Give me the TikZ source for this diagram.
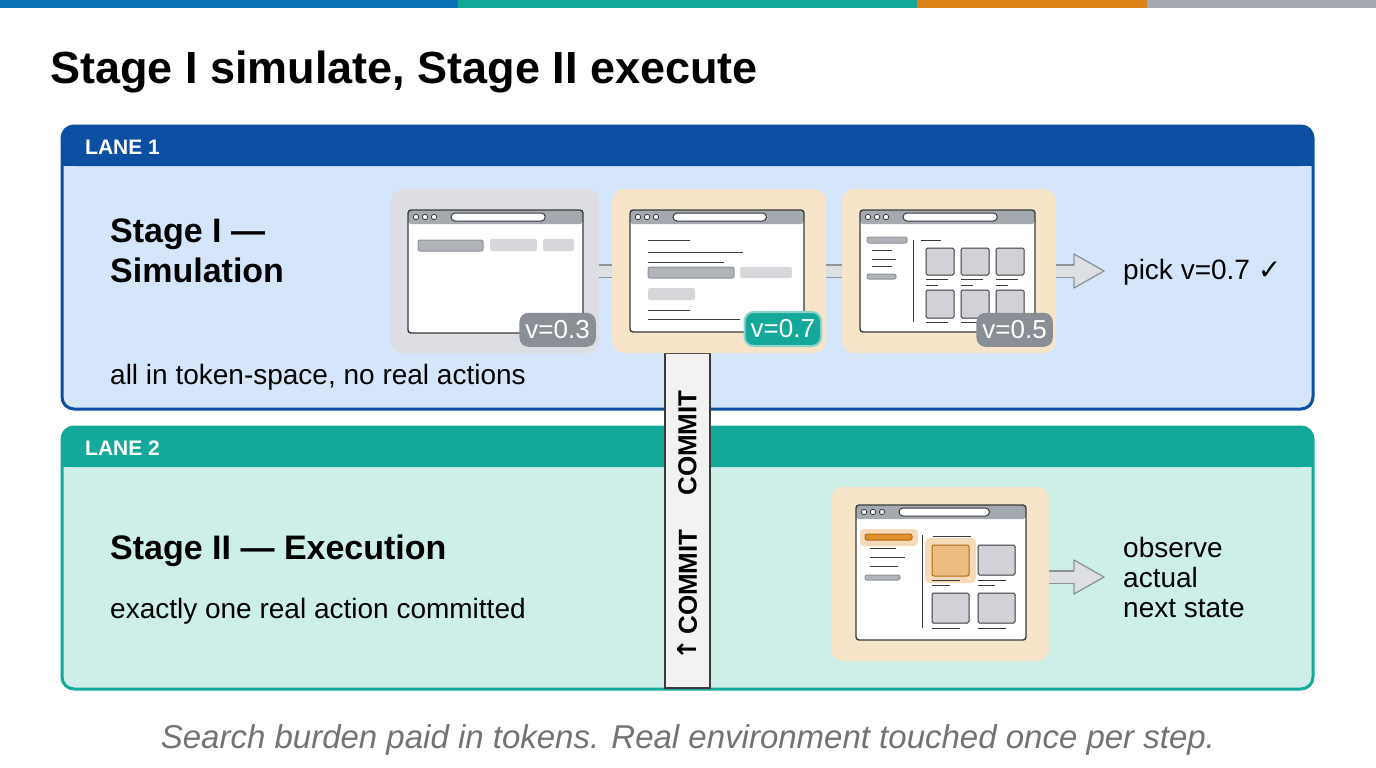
\documentclass[tikz,border=0pt]{standalone}
\usepackage{fontspec}
\setmainfont{Liberation Sans}
\newfontfamily\symf{DejaVu Sans}
\usetikzlibrary{calc,arrows.meta}
\definecolor{bluedk}{HTML}{0B4EA2}
\definecolor{bluelt}{HTML}{D6E6FA}
\definecolor{teal1}{HTML}{14A89A}
\definecolor{teallt}{HTML}{CDEFE8}
\definecolor{orng}{HTML}{DC8418}
\definecolor{grybar}{HTML}{A5A9B2}
\definecolor{cardg}{HTML}{DDDEE3}
\definecolor{cardb}{HTML}{F6E5C9}
\definecolor{badgeg}{HTML}{8A8F96}
\definecolor{inkc}{HTML}{3A3A3A}
\definecolor{boxg}{HTML}{D0D2D7}
\definecolor{boxd}{HTML}{8E949B}
\newcommand{\fs}[1]{\fontsize{#1}{#1}\selectfont}
\newcommand{\browserwin}[4]{% x1 y1 x2 y2
  \fill[white,rounded corners=3pt] (#1,#2) rectangle (#3,#4);
  \fill[boxd!80,rounded corners=3pt] (#1,#2) rectangle ({#3},{#2+14});
  \draw[inkc,line width=1.4pt,rounded corners=3pt] (#1,#2) rectangle (#3,#4);
  \foreach \k in {0,1,2}{\draw[inkc,fill=white,line width=0.8pt] ({#1+8+\k*9},{#2+7}) circle (2.7);}
  \draw[inkc,fill=white,line width=1pt,rounded corners=4pt] ({#1+43},{#2+3}) rectangle ({#1+0.75*(#3-#1)+6},{#2+11});
}
\tikzset{
  lane/.style={rounded corners=12pt,line width=3pt},
  card/.style={rounded corners=12pt,inner sep=0pt},
  badge/.style={rounded corners=9pt,text=white,font=\fs{26},inner sep=6pt,minimum height=34pt},
  band/.style={draw=boxd,line width=1.3pt,double=boxg!70,double distance=11pt},
  lbl/.style={anchor=west,font=\fs{28},inner sep=0pt},
  hd/.style={anchor=west,font=\bfseries\fs{21},text=white,inner sep=0pt},
  big/.style={anchor=west,font=\bfseries\fs{34},inner sep=0pt,align=left},
  dk/.style={boxd,fill=boxd!70,line width=1pt,rounded corners=2pt},
  lt/.style={fill=boxg!90,rounded corners=2pt},
  ln/.style={inkc,line width=1pt},
}
\begin{document}
\begin{tikzpicture}[x=1pt,y=-1pt]
\useasboundingbox (0,0) rectangle (1376,768);
\fill[white] (0,0) rectangle (1376,768);
\fill[bluedk!80!cyan] (0,0) rectangle (458,8);
\fill[teal1] (458,0) rectangle (917,8);
\fill[orng] (917,0) rectangle (1147,8);
\fill[grybar] (1147,0) rectangle (1376,8);
\node[anchor=base west,font=\bfseries\fs{45},inner sep=0pt] (title) at (50,83) {Stage I simulate, Stage II execute};

% lanes
\fill[bluelt,lane] (62,126) rectangle (1313,409);
\fill[bluedk,rounded corners=12pt] (62,126) -- (1313,126) -- (1313,166) -- (62,166) -- cycle;
\fill[bluedk] (62,150) rectangle (1313,166);
\draw[bluedk,lane] (62,126) rectangle (1313,409);
\node[hd] (l1) at (85,147) {LANE 1};
\fill[teallt,lane] (62,427) rectangle (1313,689);
\fill[teal1,rounded corners=12pt] (62,427) -- (1313,427) -- (1313,467) -- (62,467) -- cycle;
\fill[teal1] (62,450) rectangle (1313,467);
\draw[teal1,lane] (62,427) rectangle (1313,689);
\node[hd] (l2) at (85,448) {LANE 2};

\node[big] (s1) at (110,251) {Stage I —\\[6pt]Simulation};
\node[lbl] (n1) at (110,377) {all in token-space, no real actions};
\node[big] (s2) at (110,551) {Stage II — Execution};
\node[lbl] (n2) at (110,611) {exactly one real action committed};

% commit bar
\node[draw=inkc,line width=1.5pt,fill=white!95!black,minimum width=45pt,minimum height=335pt,inner sep=0pt] (commit) at (687.5,520.5) {};
\node[rotate=90,font=\bfseries\fs{26},inner sep=0pt] (ct1) at (687.5,595) {{\symf ↑}\,COMMIT};
\node[rotate=90,font=\bfseries\fs{26},inner sep=0pt] (ct2) at (687.5,443) {COMMIT};

% cards
\node[card,fill=cardg,minimum width=208pt,minimum height=164pt] (c1) at (495,271) {};
\node[card,fill=cardb,minimum width=214pt,minimum height=164pt] (c2) at (719,271) {};
\node[card,fill=cardb,minimum width=214pt,minimum height=164pt] (c3) at (949,271) {};
\node[card,fill=cardb,minimum width=218pt,minimum height=174pt] (c4) at (940,574) {};
\draw[band] (c1.east) -- (c2.west);
\draw[band] (c2.east) -- (c3.west);
\coordinate (a1) at (1075,271);
\draw[band] (c3.east) -- (a1);
\coordinate (a2) at (1075,577);
\draw[band] (c4.east|-a2) -- (a2);
\foreach \yy in {271,577}{
 \fill[boxg!70] (1074,{\yy-6}) -- (1074,{\yy-17}) -- (1104,\yy) -- (1074,{\yy+17}) -- (1074,{\yy+6}) -- cycle;
 \draw[boxd,line width=1.3pt,line join=round] (1074,{\yy-6}) -- (1074,{\yy-17}) -- (1104,\yy) -- (1074,{\yy+17}) -- (1074,{\yy+6});}
\node[lbl] (pick) at (1123,272) {pick v=0.7 {\symf\bfseries ✓}};
\node[anchor=west,font=\fs{28},inner sep=0pt,align=left] (obs) at (1123,577) {observe\\[2pt]actual\\[2pt]next state};

% browser 1
\browserwin{408}{210}{583}{333}
\draw[dk] (418,240) rectangle (483,251);
\fill[lt] (490,239) rectangle (537,251);
\fill[lt] (543,239) rectangle (574,251);
% browser 2
\browserwin{630}{210}{804}{332}
\draw[ln] (648,240) -- (690,240); \draw[ln] (648,252) -- (743,252); \draw[ln] (648,262) -- (724,262);
\draw[dk] (648,267) rectangle (734,278); \fill[lt] (740,267) rectangle (792,278);
\fill[lt] (648,288) rectangle (695,300);
\draw[ln] (648,310) -- (690,310); \draw[ln] (648,319) -- (740,319);
% browser 3
\browserwin{860}{210}{1035}{332}
\draw[dk] (867,237) rectangle (907,243); \draw[ln] (872,250)--(892,250); \draw[ln] (872,259)--(896,259); \draw[ln] (872,266)--(892,266);
\draw[dk] (867,274) rectangle (896,279);
\draw[ln] (913,240) -- (913,322); \draw[ln] (921,240)--(941,240);
\foreach \xx in {926,961,996}{
  \draw[inkc,fill=boxg,line width=1pt,rounded corners=1.5pt] (\xx,248) rectangle ({\xx+28},275);
  \draw[ln] (\xx,279)--({\xx+22},279); \draw[ln] (\xx,285)--({\xx+12},285);
  \draw[inkc,fill=boxg,line width=1pt,rounded corners=1.5pt] (\xx,290) rectangle ({\xx+28},318);
  \draw[ln] (\xx,322)--({\xx+22},322);}
% browser 4
\browserwin{856}{505}{1026}{640}
\fill[orng!30,rounded corners=4pt] (860,529) rectangle (918,546);
\draw[orng!80!black,fill=orng!90,rounded corners=2pt,line width=1pt] (865,534) rectangle (912,540);
\draw[ln] (870,548)--(896,548); \draw[ln] (870,557)--(905,557); \draw[ln] (870,566)--(898,566);
\draw[dk] (865,575) rectangle (900,580);
\draw[ln] (922,535) -- (922,628); \draw[ln] (933,536)--(971,536);
\fill[orng!30,rounded corners=5pt] (925,538) rectangle (976,583);
\draw[orng!80!black,fill=orng!55,line width=1pt,rounded corners=2pt] (932,545) rectangle (969,576);
\draw[inkc,fill=boxg,line width=1pt,rounded corners=1.5pt] (978,545) rectangle (1015,575);
\draw[ln] (932,580)--(960,580); \draw[ln] (932,585)--(950,585);
\draw[ln] (978,580)--(1006,580); \draw[ln] (978,585)--(995,585);
\draw[inkc,fill=boxg,line width=1pt,rounded corners=1.5pt] (932,593) rectangle (969,623);
\draw[inkc,fill=boxg,line width=1pt,rounded corners=1.5pt] (978,593) rectangle (1015,623);
\draw[ln] (932,628)--(960,628); \draw[ln] (978,628)--(1006,628);

% badges
\node[badge,fill=badgeg,anchor=south east] (b1) at (596,347) {v=0.3};
\node[badge,fill=teal1,anchor=south east,draw=teal1!50,line width=2pt] (b2) at (822,347) {v=0.7};
\node[badge,fill=badgeg,anchor=south east] (b3) at (1053,347) {v=0.5};

\node[font=\itshape\fs{33},text=black!55,inner sep=0pt] (foot) at (688,740) {Search burden paid in tokens. Real environment touched once per step.};
\end{tikzpicture}
\end{document}
